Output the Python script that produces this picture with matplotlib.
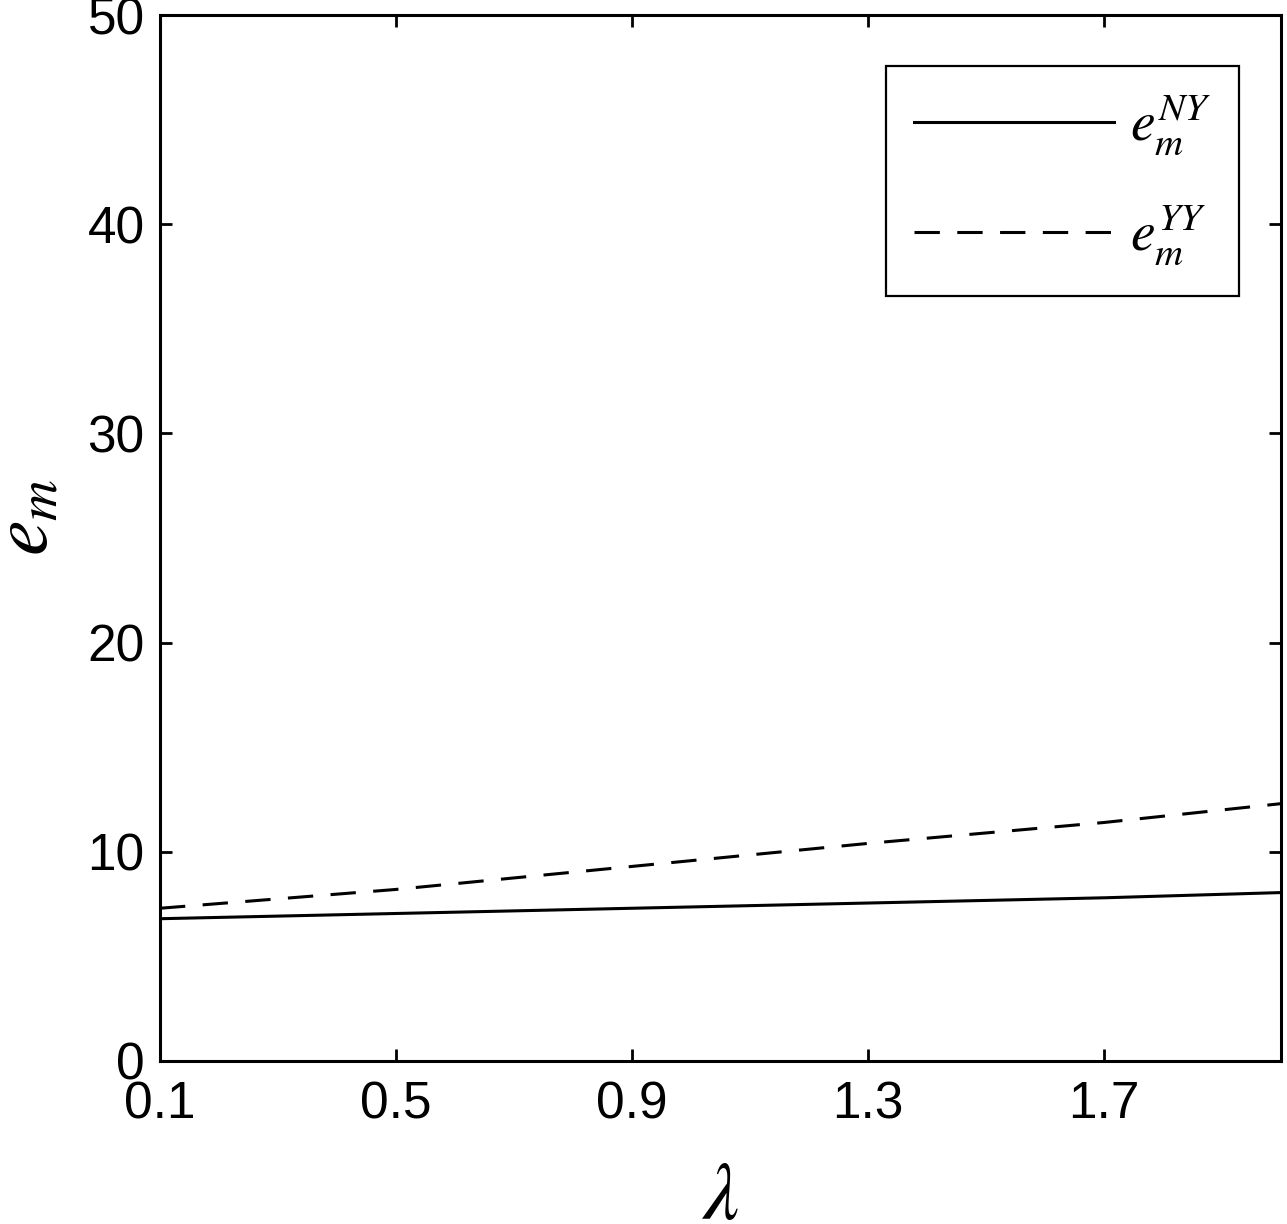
import matplotlib
matplotlib.use("Agg")
import matplotlib.pyplot as plt
import numpy as np

# valeurs
lam = [0.1, 0.5, 0.9, 1.3, 1.7, 2.0]
e_NY = [6.8, 7.05, 7.3, 7.55, 7.8, 8.05]
e_YY = [7.3, 8.2, 9.3, 10.4, 11.4, 12.3]

xticks = [0.1, 0.5, 0.9, 1.3, 1.7]
yticks = [0, 10, 20, 30, 40, 50]

plt.rcParams['mathtext.fontset'] = 'stix'
plt.rcParams['font.family'] = ['Liberation Sans', 'DejaVu Sans']

fig = plt.figure(figsize=(12.87, 12.24), dpi=100)
ax = fig.add_axes([0.1243, 0.1332, 0.871, 0.8545])

ax.plot(lam, e_NY, color="black", linewidth=2.2, label=r"$e_m^{NY}$")
ax.plot(lam, e_YY, color="black", linewidth=2.2, linestyle=(0, (8.3, 5.7)), label=r"$e_m^{YY}$")

ax.set_xlim(0.1, 2.0)
ax.set_ylim(0, 50)
ax.set_xticks(xticks)
ax.set_xticklabels([str(t) for t in xticks])
ax.set_yticks(yticks)

ax.tick_params(direction="in", length=8.5, width=2, labelsize=37, top=True, right=True)
ax.tick_params(axis="y", pad=11)
ax.tick_params(axis="x", pad=14)
for s in ax.spines.values():
    s.set_linewidth(2.2)

ax.set_xlabel(r"$\lambda$", fontsize=58)
ax.xaxis.set_label_coords(0.5, -0.095)
ax.set_ylabel(r"$e_m$", fontsize=58)
ax.yaxis.set_label_coords(-0.085, 0.52)

leg = ax.legend(loc="upper right", bbox_to_anchor=(0.9625, 0.9512), borderaxespad=0,
                fontsize=40, handlelength=3.6, frameon=True, fancybox=False,
                edgecolor="black", framealpha=1, borderpad=0.5, labelspacing=0.83,
                handletextpad=0.3)
leg.get_frame().set_linewidth(1.6)

fig.savefig("out.png", dpi=100)
